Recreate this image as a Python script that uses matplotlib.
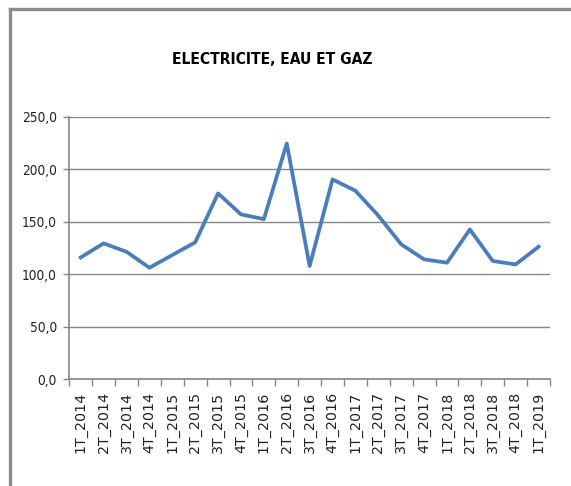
import matplotlib
matplotlib.use("Agg")
import matplotlib.pyplot as plt
from matplotlib.lines import Line2D
from matplotlib.ticker import FuncFormatter

categories = ["1T_2014", "2T_2014", "3T_2014", "4T_2014",
              "1T_2015", "2T_2015", "3T_2015", "4T_2015",
              "1T_2016", "2T_2016", "3T_2016", "4T_2016",
              "1T_2017", "2T_2017", "3T_2017", "4T_2017",
              "1T_2018", "2T_2018", "3T_2018", "4T_2018",
              "1T_2019"]
values = [116.0, 129.4, 121.4, 106.2, 118.3, 130.4, 177.0, 157.0, 152.5,
          224.5, 107.8, 190.3, 179.5, 155.8, 128.5, 114.2, 111.0, 142.7,
          112.6, 109.4, 126.2]
y_ticks = [0, 50, 100, 150, 200, 250]
title = "ELECTRICITE, EAU ET GAZ"

W, H = 571, 486
fig = plt.figure(figsize=(W / 100, H / 100), dpi=100)
fig.patch.set_facecolor("white")

ax = fig.add_axes([69.3 / W, 1 - 379.3 / H, (550 - 69.3) / W, (379.3 - 116.7) / H])
x = list(range(len(categories)))
ax.plot(x, values, color="#4A7EBB", linewidth=2.7, solid_joinstyle="round", zorder=3)

ax.set_xlim(-0.5, len(categories) - 0.5)
ax.set_ylim(0, 250)
ax.set_yticks(y_ticks)
ax.yaxis.set_major_formatter(FuncFormatter(lambda v, p: f"{v:.1f}".replace(".", ",")))
ax.grid(axis="y", color="#868686", linewidth=1.0, zorder=1)
ax.set_axisbelow(True)

ax.set_xticks(x)
ax.set_xticklabels(categories, rotation=90, fontsize=10.3, color="#222222")
ax.set_xticks([i - 0.5 for i in range(len(categories) + 1)], minor=True)
ax.tick_params(axis="x", which="major", length=0, pad=9)
ax.tick_params(axis="x", which="minor", length=5, color="#868686", width=1)
ax.tick_params(axis="y", length=4, color="#868686", width=1, pad=5)
for lbl in ax.get_yticklabels():
    lbl.set_fontfamily("DejaVu Sans")
    lbl.set_fontstretch("condensed")
    lbl.set_fontsize(9.8)
    lbl.set_color("#222222")

for s in ["top", "right"]:
    ax.spines[s].set_visible(False)
for s in ["left", "bottom"]:
    ax.spines[s].set_color("#868686")
    ax.spines[s].set_linewidth(1.2)

fig.text(272.5 / W, 1 - 60 / H, title, ha="center", va="center",
         fontsize=11.2, fontweight="bold", fontfamily="DejaVu Sans",
         fontstretch="condensed", color="black")

# outer chart frame
fig.add_artist(Line2D([9.5 / W, 9.5 / W], [0, 1 - 9.5 / H], transform=fig.transFigure,
                      color="#8c8c8c", linewidth=2.4))
fig.add_artist(Line2D([9.5 / W, 1], [1 - 9.5 / H, 1 - 9.5 / H], transform=fig.transFigure,
                      color="#8c8c8c", linewidth=2.4))

fig.savefig("out.png", dpi=100)
